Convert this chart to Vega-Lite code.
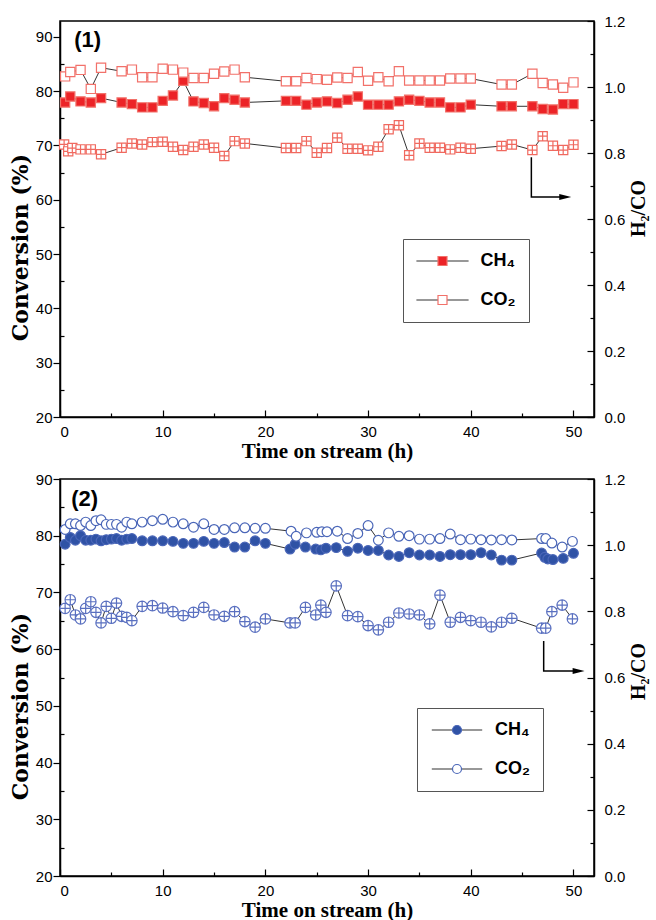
{
  "$schema": "https://vega.github.io/schema/vega-lite/v6.json",
  "padding": {"left": 8, "top": 13, "right": 0, "bottom": 0},
  "background": "white",
  "config": {
    "view": {"stroke": "black", "strokeWidth": 1.5},
    "axis": {"domainColor": "black", "domainWidth": 1.5, "tickColor": "black", "tickWidth": 1.2, "labelColor": "black", "titleColor": "black", "grid": false, "labelFont": "Liberation Sans", "labelFontSize": 15, "titleFont": "Liberation Serif", "titleFontWeight": "bold", "titleFontSize": 21}
  },
  "datasets": {
    "p1conv": [
      {"t":0.5,"gas":"CH₄","v":77.9},{"t":1,"gas":"CH₄","v":79.0},{"t":2,"gas":"CH₄","v":78.1},{"t":3,"gas":"CH₄","v":77.9},{"t":4,"gas":"CH₄","v":78.7},{"t":6,"gas":"CH₄","v":77.9},{"t":7,"gas":"CH₄","v":77.6},{"t":8,"gas":"CH₄","v":77.0},{"t":9,"gas":"CH₄","v":77.0},{"t":10,"gas":"CH₄","v":78.2},{"t":11,"gas":"CH₄","v":79.2},{"t":12,"gas":"CH₄","v":81.9},{"t":13,"gas":"CH₄","v":78.1},{"t":14,"gas":"CH₄","v":77.8},{"t":15,"gas":"CH₄","v":77.2},{"t":16,"gas":"CH₄","v":78.7},{"t":17,"gas":"CH₄","v":78.4},{"t":18,"gas":"CH₄","v":77.9},{"t":22,"gas":"CH₄","v":78.2},{"t":23,"gas":"CH₄","v":78.2},{"t":24,"gas":"CH₄","v":77.5},{"t":25,"gas":"CH₄","v":77.9},{"t":26,"gas":"CH₄","v":78.1},{"t":27,"gas":"CH₄","v":77.8},{"t":28,"gas":"CH₄","v":78.4},{"t":29,"gas":"CH₄","v":79.0},{"t":30,"gas":"CH₄","v":77.5},{"t":31,"gas":"CH₄","v":77.5},{"t":32,"gas":"CH₄","v":77.5},{"t":33,"gas":"CH₄","v":78.1},{"t":34,"gas":"CH₄","v":78.4},{"t":35,"gas":"CH₄","v":78.2},{"t":36,"gas":"CH₄","v":77.9},{"t":37,"gas":"CH₄","v":77.9},{"t":38,"gas":"CH₄","v":77.0},{"t":39,"gas":"CH₄","v":77.0},{"t":40,"gas":"CH₄","v":77.5},{"t":43,"gas":"CH₄","v":77.2},{"t":44,"gas":"CH₄","v":77.2},{"t":46,"gas":"CH₄","v":77.2},{"t":47,"gas":"CH₄","v":76.7},{"t":48,"gas":"CH₄","v":76.6},{"t":49,"gas":"CH₄","v":77.6},{"t":50,"gas":"CH₄","v":77.6},
      {"t":0.5,"gas":"CO₂","v":82.7},{"t":1,"gas":"CO₂","v":83.5},{"t":2,"gas":"CO₂","v":83.9},{"t":3,"gas":"CO₂","v":80.4},{"t":4,"gas":"CO₂","v":84.3},{"t":6,"gas":"CO₂","v":83.65},{"t":7,"gas":"CO₂","v":83.95},{"t":8,"gas":"CO₂","v":82.55},{"t":9,"gas":"CO₂","v":82.55},{"t":10,"gas":"CO₂","v":84.1},{"t":11,"gas":"CO₂","v":83.95},{"t":12,"gas":"CO₂","v":83.4},{"t":13,"gas":"CO₂","v":82.4},{"t":14,"gas":"CO₂","v":82.4},{"t":15,"gas":"CO₂","v":83.2},{"t":16,"gas":"CO₂","v":83.6},{"t":17,"gas":"CO₂","v":83.95},{"t":18,"gas":"CO₂","v":82.55},{"t":22,"gas":"CO₂","v":81.8},{"t":23,"gas":"CO₂","v":81.8},{"t":24,"gas":"CO₂","v":82.4},{"t":25,"gas":"CO₂","v":82.2},{"t":26,"gas":"CO₂","v":82.1},{"t":27,"gas":"CO₂","v":82.5},{"t":28,"gas":"CO₂","v":82.4},{"t":29,"gas":"CO₂","v":83.5},{"t":30,"gas":"CO₂","v":81.9},{"t":31,"gas":"CO₂","v":82.55},{"t":32,"gas":"CO₂","v":81.8},{"t":33,"gas":"CO₂","v":83.65},{"t":34,"gas":"CO₂","v":81.95},{"t":35,"gas":"CO₂","v":81.95},{"t":36,"gas":"CO₂","v":81.95},{"t":37,"gas":"CO₂","v":81.95},{"t":38,"gas":"CO₂","v":82.3},{"t":39,"gas":"CO₂","v":82.3},{"t":40,"gas":"CO₂","v":82.3},{"t":43,"gas":"CO₂","v":81.2},{"t":44,"gas":"CO₂","v":81.2},{"t":46,"gas":"CO₂","v":83.2},{"t":47,"gas":"CO₂","v":81.5},{"t":48,"gas":"CO₂","v":81.2},{"t":49,"gas":"CO₂","v":80.6},{"t":50,"gas":"CO₂","v":81.6}
    ],
    "p1ratio": [
      {"t":0.4,"r":0.826},{"t":0.8,"r":0.805},{"t":1.2,"r":0.815},{"t":2,"r":0.811},{"t":3,"r":0.811},{"t":4,"r":0.796},{"t":6,"r":0.816},{"t":7,"r":0.829},{"t":8,"r":0.826},{"t":9,"r":0.833},{"t":10,"r":0.834},{"t":11,"r":0.819},{"t":12,"r":0.809},{"t":13,"r":0.819},{"t":14,"r":0.826},{"t":15,"r":0.816},{"t":16,"r":0.791},{"t":17,"r":0.836},{"t":18,"r":0.829},{"t":22,"r":0.815},{"t":23,"r":0.815},{"t":24,"r":0.836},{"t":25,"r":0.801},{"t":26,"r":0.815},{"t":27,"r":0.846},{"t":28,"r":0.813},{"t":29,"r":0.813},{"t":30,"r":0.808},{"t":31,"r":0.819},{"t":32,"r":0.872},{"t":33,"r":0.884},{"t":34,"r":0.793},{"t":35,"r":0.829},{"t":36,"r":0.816},{"t":37,"r":0.816},{"t":38,"r":0.811},{"t":39,"r":0.816},{"t":40,"r":0.813},{"t":43,"r":0.821},{"t":44,"r":0.826},{"t":46,"r":0.809},{"t":47,"r":0.851},{"t":48,"r":0.822},{"t":49,"r":0.809},{"t":50,"r":0.825}
    ],
    "p2conv": [
      {"t":0.5,"gas":"CH₄","v":78.5},{"t":1,"gas":"CH₄","v":79.7},{"t":1.5,"gas":"CH₄","v":79.2},{"t":2,"gas":"CH₄","v":80.0},{"t":2.5,"gas":"CH₄","v":79.2},{"t":3,"gas":"CH₄","v":79.2},{"t":3.5,"gas":"CH₄","v":79.4},{"t":4,"gas":"CH₄","v":79.1},{"t":4.5,"gas":"CH₄","v":79.3},{"t":5,"gas":"CH₄","v":79.4},{"t":5.5,"gas":"CH₄","v":79.5},{"t":6,"gas":"CH₄","v":79.2},{"t":6.5,"gas":"CH₄","v":79.4},{"t":7,"gas":"CH₄","v":79.5},{"t":8,"gas":"CH₄","v":79.1},{"t":9,"gas":"CH₄","v":79.1},{"t":10,"gas":"CH₄","v":79.1},{"t":11,"gas":"CH₄","v":79.0},{"t":12,"gas":"CH₄","v":78.65},{"t":13,"gas":"CH₄","v":78.65},{"t":14,"gas":"CH₄","v":79.0},{"t":15,"gas":"CH₄","v":78.65},{"t":16,"gas":"CH₄","v":78.8},{"t":17,"gas":"CH₄","v":78.0},{"t":18,"gas":"CH₄","v":78.0},{"t":19,"gas":"CH₄","v":79.1},{"t":20,"gas":"CH₄","v":78.65},{"t":22.4,"gas":"CH₄","v":77.65},{"t":22.9,"gas":"CH₄","v":78.5},{"t":23.9,"gas":"CH₄","v":78.0},{"t":24.9,"gas":"CH₄","v":77.65},{"t":25.4,"gas":"CH₄","v":77.5},{"t":25.9,"gas":"CH₄","v":77.8},{"t":26.9,"gas":"CH₄","v":77.9},{"t":28,"gas":"CH₄","v":77.25},{"t":29,"gas":"CH₄","v":77.8},{"t":30,"gas":"CH₄","v":77.4},{"t":31,"gas":"CH₄","v":77.4},{"t":32,"gas":"CH₄","v":76.6},{"t":33,"gas":"CH₄","v":76.35},{"t":34,"gas":"CH₄","v":77.0},{"t":35,"gas":"CH₄","v":76.6},{"t":36,"gas":"CH₄","v":76.6},{"t":37,"gas":"CH₄","v":76.35},{"t":38,"gas":"CH₄","v":76.65},{"t":39,"gas":"CH₄","v":76.65},{"t":40,"gas":"CH₄","v":76.65},{"t":41,"gas":"CH₄","v":77.0},{"t":42,"gas":"CH₄","v":76.6},{"t":43,"gas":"CH₄","v":75.7},{"t":44,"gas":"CH₄","v":75.7},{"t":46.9,"gas":"CH₄","v":76.95},{"t":47.2,"gas":"CH₄","v":76.2},{"t":47.5,"gas":"CH₄","v":75.9},{"t":48,"gas":"CH₄","v":75.8},{"t":49,"gas":"CH₄","v":76.0},{"t":50,"gas":"CH₄","v":76.9},
      {"t":0.5,"gas":"CO₂","v":81.1},{"t":1,"gas":"CO₂","v":82.1},{"t":1.5,"gas":"CO₂","v":82.1},{"t":2,"gas":"CO₂","v":81.8},{"t":2.5,"gas":"CO₂","v":82.4},{"t":3,"gas":"CO₂","v":81.8},{"t":3.5,"gas":"CO₂","v":82.65},{"t":4,"gas":"CO₂","v":82.8},{"t":4.5,"gas":"CO₂","v":82.0},{"t":5,"gas":"CO₂","v":82.0},{"t":5.5,"gas":"CO₂","v":82.0},{"t":6,"gas":"CO₂","v":81.5},{"t":6.5,"gas":"CO₂","v":82.4},{"t":7,"gas":"CO₂","v":82.1},{"t":8,"gas":"CO₂","v":82.4},{"t":9,"gas":"CO₂","v":82.65},{"t":10,"gas":"CO₂","v":82.9},{"t":11,"gas":"CO₂","v":82.4},{"t":12,"gas":"CO₂","v":82.1},{"t":13,"gas":"CO₂","v":81.5},{"t":14,"gas":"CO₂","v":82.1},{"t":15,"gas":"CO₂","v":81.1},{"t":16,"gas":"CO₂","v":81.1},{"t":17,"gas":"CO₂","v":81.4},{"t":18,"gas":"CO₂","v":81.4},{"t":19,"gas":"CO₂","v":81.3},{"t":20,"gas":"CO₂","v":81.3},{"t":22.5,"gas":"CO₂","v":80.8},{"t":23,"gas":"CO₂","v":79.9},{"t":24,"gas":"CO₂","v":80.5},{"t":25,"gas":"CO₂","v":80.6},{"t":25.5,"gas":"CO₂","v":80.7},{"t":26,"gas":"CO₂","v":80.7},{"t":27,"gas":"CO₂","v":80.8},{"t":28,"gas":"CO₂","v":79.5},{"t":29,"gas":"CO₂","v":80.4},{"t":30,"gas":"CO₂","v":81.8},{"t":31,"gas":"CO₂","v":79.2},{"t":32,"gas":"CO₂","v":80.5},{"t":33,"gas":"CO₂","v":79.9},{"t":34,"gas":"CO₂","v":80.0},{"t":35,"gas":"CO₂","v":79.4},{"t":36,"gas":"CO₂","v":79.4},{"t":37,"gas":"CO₂","v":79.5},{"t":38,"gas":"CO₂","v":80.3},{"t":39,"gas":"CO₂","v":79.3},{"t":40,"gas":"CO₂","v":79.4},{"t":41,"gas":"CO₂","v":79.3},{"t":42,"gas":"CO₂","v":79.25},{"t":43,"gas":"CO₂","v":79.3},{"t":44,"gas":"CO₂","v":79.25},{"t":46.9,"gas":"CO₂","v":79.5},{"t":47.3,"gas":"CO₂","v":79.5},{"t":47.9,"gas":"CO₂","v":78.7},{"t":48.9,"gas":"CO₂","v":78.0},{"t":49.9,"gas":"CO₂","v":79.0}
    ],
    "p2ratio": [
      {"t":0.5,"r":0.809},{"t":1,"r":0.835},{"t":1.5,"r":0.789},{"t":2,"r":0.777},{"t":2.5,"r":0.809},{"t":3,"r":0.829},{"t":3.5,"r":0.797},{"t":4,"r":0.765},{"t":4.5,"r":0.815},{"t":5,"r":0.779},{"t":5.5,"r":0.825},{"t":6,"r":0.785},{"t":6.5,"r":0.782},{"t":7,"r":0.772},{"t":8,"r":0.815},{"t":9,"r":0.817},{"t":10,"r":0.81},{"t":11,"r":0.799},{"t":12,"r":0.787},{"t":13,"r":0.797},{"t":14,"r":0.812},{"t":15,"r":0.789},{"t":16,"r":0.785},{"t":17,"r":0.799},{"t":18,"r":0.769},{"t":19,"r":0.752},{"t":20,"r":0.777},{"t":22.4,"r":0.765},{"t":22.9,"r":0.765},{"t":23.9,"r":0.812},{"t":24.9,"r":0.789},{"t":25.4,"r":0.819},{"t":25.9,"r":0.797},{"t":26.9,"r":0.877},{"t":28,"r":0.787},{"t":29,"r":0.784},{"t":30,"r":0.757},{"t":31,"r":0.744},{"t":32,"r":0.767},{"t":33,"r":0.795},{"t":34,"r":0.792},{"t":35,"r":0.789},{"t":36,"r":0.762},{"t":37,"r":0.849},{"t":38,"r":0.767},{"t":39,"r":0.782},{"t":40,"r":0.772},{"t":41,"r":0.767},{"t":42,"r":0.753},{"t":43,"r":0.767},{"t":44,"r":0.779},{"t":46.9,"r":0.749},{"t":47.3,"r":0.749},{"t":47.9,"r":0.799},{"t":48.9,"r":0.819},{"t":49.9,"r":0.777}
    ]
  },
  "spacing": 62,
  "bounds": "flush",
  "resolve": {"scale": {"x": "independent", "y": "independent", "fill": "independent", "stroke": "independent"}, "legend": {"fill": "independent", "stroke": "independent"}},
  "vconcat": [
    {
      "width": 534, "height": 396,
      "encoding": {
        "x": {"field": "t", "type": "quantitative", "scale": {"domain": [0, 52], "nice": false, "zero": false},
          "axis": {"title": "Time on stream (h)", "values": [0,5,10,15,20,25,30,35,40,45,50], "labelExpr": "datum.value % 10 === 0 ? datum.label : ''", "tickSize": {"condition": {"test": "datum.value % 10 === 0", "value": -7}, "value": -4}, "labelPadding": 14, "titlePadding": 1}}
      },
      "resolve": {"scale": {"y": "independent"}},
      "layer": [
        {
          "data": {"name": "p1conv"},
          "encoding": {
            "y": {"field": "v", "type": "quantitative", "scale": {"domain": [20, 92.9], "nice": false, "zero": false},
              "axis": {"orient": "left", "title": "Conversion (%)", "titleFont": "DejaVu Serif", "titleFontSize": 22, "titleY": 226, "values": [20,25,30,35,40,45,50,55,60,65,70,75,80,85,90], "labelExpr": "datum.value % 10 === 0 ? datum.label : ''", "tickSize": {"condition": {"test": "datum.value % 10 === 0", "value": 7}, "value": -4}, "labelPadding": 1, "titlePadding": 3}}
          },
          "layer": [
            {"mark": {"type": "line", "strokeWidth": 1},
              "encoding": {"stroke": {"field": "gas", "type": "nominal", "scale": {"range": ["#333333", "#333333"]},
                "legend": {"orient": "none", "legendX": 343, "legendY": 218, "title": null, "padding": 13, "symbolType": "M-5.8,0H-1M1,0H5.8", "symbolSize": 81, "symbolStrokeWidth": 1.2, "symbolOffset": 17.5, "labelOffset": 29, "labelFont": "Liberation Sans", "labelFontSize": 18, "labelFontWeight": "bold", "labelOpacity": 0, "rowPadding": 21}}}},
            {"mark": {"type": "point", "shape": "square", "filled": true, "size": 85, "stroke": "#f2716a", "strokeWidth": 1.2, "opacity": 1},
              "encoding": {"fill": {"field": "gas", "type": "nominal", "scale": {"domain": ["CH₄", "CO₂"], "range": ["#ec2327", "#ffffff"]},
                "legend": {"orient": "none", "legendX": 343, "legendY": 218, "title": null, "strokeColor": "#555555", "padding": 13, "symbolType": "square", "symbolSize": 81, "symbolStrokeColor": "#f2716a", "symbolStrokeWidth": 1.2, "symbolOffset": 17.5, "labelOffset": 29, "labelFont": "Liberation Sans", "labelFontSize": 18, "labelFontWeight": "bold", "labelColor": "black", "rowPadding": 21}}}},
            {"data": {"values": [{"t": 2.7, "v": 89.4, "label": "(1)"}]},
              "mark": {"type": "text", "font": "Liberation Sans", "fontSize": 22, "fontWeight": "bold", "color": "black", "align": "center", "baseline": "middle"},
              "encoding": {"text": {"field": "label"}}}
          ]
        },
        {
          "data": {"name": "p1ratio"},
          "encoding": {
            "y": {"field": "r", "type": "quantitative", "scale": {"domain": [0, 1.2], "nice": false, "zero": false},
              "axis": {"orient": "right", "title": "H₂/CO", "titleFontSize": 20, "titleAngle": 270, "titleBaseline": "top", "titleY": 187, "values": [0,0.1,0.2,0.3,0.4,0.5,0.6,0.7,0.8,0.9,1.0,1.1,1.2], "format": ".1f", "labelExpr": "round(datum.value*10) % 2 === 0 ? datum.label : ''", "tickSize": {"condition": {"test": "round(datum.value*10) % 2 === 0", "value": -7}, "value": -4}, "labelPadding": 17, "titlePadding": 4}}
          },
          "layer": [
            {"mark": {"type": "line", "color": "#333333", "strokeWidth": 1}},
            {"mark": {"type": "point", "shape": "M-1,-1H1V1H-1Z M0,-1V1 M-1,0H1", "filled": true, "fill": "white", "size": 85, "stroke": "#f0695f", "strokeWidth": 1.2, "opacity": 1}},
            {"data": {"values": [{"t": 45.9, "r": 0.787, "k": 1}, {"t": 45.9, "r": 0.667, "k": 2}, {"t": 48.7, "r": 0.667, "k": 3}]},
              "mark": {"type": "line", "color": "black", "strokeWidth": 1.5},
              "encoding": {"order": {"field": "k", "type": "quantitative"}}},
            {"data": {"values": [{"t": 49.2, "r": 0.667}]},
              "mark": {"type": "point", "shape": "M-1,-0.5L1,0L-1,0.5Z", "filled": true, "color": "black", "size": 144, "opacity": 1}}
          ]
        }
      ]
    },
    {
      "width": 534, "height": 397,
      "encoding": {
        "x": {"field": "t", "type": "quantitative", "scale": {"domain": [0, 52], "nice": false, "zero": false},
          "axis": {"title": "Time on stream (h)", "values": [0,5,10,15,20,25,30,35,40,45,50], "labelExpr": "datum.value % 10 === 0 ? datum.label : ''", "tickSize": {"condition": {"test": "datum.value % 10 === 0", "value": -7}, "value": -4}, "labelPadding": 14, "titlePadding": 1}}
      },
      "resolve": {"scale": {"y": "independent"}},
      "layer": [
        {
          "data": {"name": "p2conv"},
          "encoding": {
            "y": {"field": "v", "type": "quantitative", "scale": {"domain": [20, 90], "nice": false, "zero": false},
              "axis": {"orient": "left", "title": "Conversion (%)", "titleFont": "DejaVu Serif", "titleFontSize": 22, "titleY": 227, "values": [20,25,30,35,40,45,50,55,60,65,70,75,80,85,90], "labelExpr": "datum.value % 10 === 0 ? datum.label : ''", "tickSize": {"condition": {"test": "datum.value % 10 === 0", "value": 7}, "value": -4}, "labelPadding": 1, "titlePadding": 3}}
          },
          "layer": [
            {"mark": {"type": "line", "strokeWidth": 1},
              "encoding": {"stroke": {"field": "gas", "type": "nominal", "scale": {"range": ["#333333", "#333333"]},
                "legend": {"orient": "none", "legendX": 357, "legendY": 229, "title": null, "padding": 13, "symbolType": "M-5.6,0H-1M1,0H5.6", "symbolSize": 81, "symbolStrokeWidth": 1.2, "symbolOffset": 18, "labelOffset": 29, "labelFont": "Liberation Sans", "labelFontSize": 18, "labelFontWeight": "bold", "labelOpacity": 0, "rowPadding": 21}}}},
            {"mark": {"type": "point", "shape": "circle", "filled": true, "size": 95, "stroke": "#4a66b8", "strokeWidth": 1.2, "opacity": 1},
              "encoding": {"fill": {"field": "gas", "type": "nominal", "scale": {"domain": ["CH₄", "CO₂"], "range": ["#2f52a5", "#ffffff"]},
                "legend": {"orient": "none", "legendX": 357, "legendY": 229, "title": null, "strokeColor": "#555555", "padding": 13, "symbolType": "circle", "symbolSize": 81, "symbolStrokeColor": "#4a66b8", "symbolStrokeWidth": 1.2, "symbolOffset": 18, "labelOffset": 29, "labelFont": "Liberation Sans", "labelFontSize": 18, "labelFontWeight": "bold", "labelColor": "black", "rowPadding": 21}}}},
            {"data": {"values": [{"t": 2.4, "v": 86.5, "label": "(2)"}]},
              "mark": {"type": "text", "font": "Liberation Sans", "fontSize": 22, "fontWeight": "bold", "color": "black", "align": "center", "baseline": "middle"},
              "encoding": {"text": {"field": "label"}}}
          ]
        },
        {
          "data": {"name": "p2ratio"},
          "encoding": {
            "y": {"field": "r", "type": "quantitative", "scale": {"domain": [0, 1.2], "nice": false, "zero": false},
              "axis": {"orient": "right", "title": "H₂/CO", "titleFontSize": 20, "titleAngle": 270, "titleBaseline": "top", "titleY": 192, "values": [0,0.1,0.2,0.3,0.4,0.5,0.6,0.7,0.8,0.9,1.0,1.1,1.2], "format": ".1f", "labelExpr": "round(datum.value*10) % 2 === 0 ? datum.label : ''", "tickSize": {"condition": {"test": "round(datum.value*10) % 2 === 0", "value": -7}, "value": -4}, "labelPadding": 17, "titlePadding": 4}}
          },
          "layer": [
            {"mark": {"type": "line", "color": "#333333", "strokeWidth": 1}},
            {"mark": {"type": "point", "shape": "M-1,0A1,1 0 1,1 1,0A1,1 0 1,1 -1,0Z M0,-1V1 M-1,0H1", "filled": true, "fill": "white", "size": 110, "stroke": "#5a70c0", "strokeWidth": 1.2, "opacity": 1}},
            {"data": {"values": [{"t": 47.1, "r": 0.71, "k": 1}, {"t": 47.1, "r": 0.62, "k": 2}, {"t": 50.0, "r": 0.62, "k": 3}]},
              "mark": {"type": "line", "color": "black", "strokeWidth": 1.5},
              "encoding": {"order": {"field": "k", "type": "quantitative"}}},
            {"data": {"values": [{"t": 50.5, "r": 0.62}]},
              "mark": {"type": "point", "shape": "M-1,-0.5L1,0L-1,0.5Z", "filled": true, "color": "black", "size": 144, "opacity": 1}}
          ]
        }
      ]
    }
  ]
}
